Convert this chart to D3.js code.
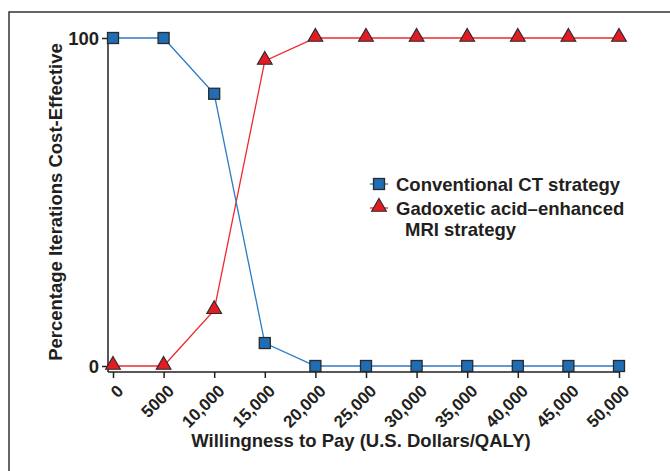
<!DOCTYPE html>
<html>
<head>
<meta charset="utf-8">
<script src="https://cdn.jsdelivr.net/npm/d3@7"></script>
<style>
  body { margin: 0; background: #fff; }
  svg text { font-family: "Liberation Sans", Arial, sans-serif; font-weight: bold; fill: #231f20; }
</style>
</head>
<body>
<div id="chart"></div>
<script>
// willingness to pay thresholds (US $ / QALY)
const wtp = [0, 5000, 10000, 15000, 20000, 25000, 30000, 35000, 40000, 45000, 50000];
const ctValues = [100, 100, 83, 7, 0, 0, 0, 0, 0, 0, 0];
const mriValues = [0, 0, 17, 93, 100, 100, 100, 100, 100, 100, 100];
const yTicks = [0, 100];
const tickLabels = ["0", "5000", "10,000", "15,000", "20,000", "25,000", "30,000", "35,000", "40,000", "45,000", "50,000"];

const series = [
    { name: "Conventional CT strategy", values: ctValues, line: "#2b7bc4", fill: "#1f6db4", shape: "square" },
    { name: "Gadoxetic acid\u2013enhanced|MRI strategy", values: mriValues, line: "#ee2a2f", fill: "#e31b23", shape: "triangle" }
];

const width = 670, height = 471;
const svg = d3.select("#chart").append("svg")
    .attr("width", width)
    .attr("height", height);

// outer frame
svg.append("rect")
    .attr("x", 9).attr("y", 12)
    .attr("width", 680).attr("height", 480)
    .attr("fill", "none")
    .attr("stroke", "#333")
    .attr("stroke-width", 1.5);

const x = d3.scaleLinear().domain([0, 50000]).range([113, 619]);
const y = d3.scaleLinear().domain([0, 100]).range([366, 38]);

const axisColor = "#231f20";

// y axis
svg.append("line")
    .attr("x1", 108).attr("x2", 108)
    .attr("y1", y(100)).attr("y2", 372)
    .attr("stroke", axisColor).attr("stroke-width", 1.5);

const yAxis = svg.append("g")
    .attr("transform", "translate(108,0)")
    .call(d3.axisLeft(y).tickValues(yTicks).tickSize(6).tickPadding(3).tickFormat(d3.format("d")));
yAxis.select(".domain").remove();
yAxis.selectAll(".tick line").attr("stroke", axisColor).attr("stroke-width", 1.5);
yAxis.selectAll(".tick text")
    .attr("font-size", 18.5)
    .attr("font-family", null)
    .attr("dy", "0.36em");

// x axis
svg.append("line")
    .attr("x1", 108).attr("x2", 620)
    .attr("y1", 372).attr("y2", 372)
    .attr("stroke", axisColor).attr("stroke-width", 1.5);

const xAxis = svg.append("g")
    .attr("transform", "translate(0,372)")
    .call(d3.axisBottom(x).tickValues(wtp).tickSize(6).tickFormat((d, i) => tickLabels[i]));
xAxis.select(".domain").remove();
xAxis.selectAll(".tick line").attr("stroke", axisColor).attr("stroke-width", 1.5);
xAxis.selectAll(".tick text")
    .attr("font-size", 17)
    .attr("font-family", null)
    .attr("text-anchor", "end")
    .attr("y", 0)
    .attr("dy", 0)
    .attr("transform", "translate(11,20) rotate(-45)");

// axis titles
svg.append("text")
    .attr("x", 361).attr("y", 447)
    .attr("text-anchor", "middle")
    .attr("font-size", 18.5)
    .text("Willingness to Pay (U.S. Dollars/QALY)");

svg.append("text")
    .attr("transform", "translate(62,202) rotate(-90)")
    .attr("text-anchor", "middle")
    .attr("font-size", 18.5)
    .text("Percentage Iterations Cost-Effective");

const line = d3.line()
    .x((d, i) => x(wtp[i]))
    .y(d => y(d));

const tri = d3.symbol().type(d3.symbolTriangle).size(95);

function drawMarker(g, s, cx, cy) {
    if (s.shape === "square") {
        g.append("rect")
            .attr("x", cx - 5.5).attr("y", cy - 5.5)
            .attr("width", 11).attr("height", 11)
            .attr("fill", s.fill)
            .attr("stroke", "#2a2a2a").attr("stroke-width", 1.3);
    } else {
        g.append("path")
            .attr("d", tri)
            .attr("transform", `translate(${cx},${cy - 1})`)
            .attr("fill", s.fill)
            .attr("stroke", "#2a2a2a").attr("stroke-width", 1.1);
    }
}

// draw MRI first then CT so squares sit on top like the original
[series[1], series[0]].forEach(s => {
    const g = svg.append("g");
    g.append("path")
        .datum(s.values)
        .attr("d", line)
        .attr("fill", "none")
        .attr("stroke", s.line)
        .attr("stroke-width", 1.3);
    s.values.forEach((v, i) => drawMarker(g, s, x(wtp[i]), y(v)));
});

// legend
const legend = svg.append("g").attr("transform", "translate(379,0)");
const legendRows = [184, 208];
series.forEach((s, i) => {
    const ly = legendRows[i];
    legend.append("line")
        .attr("x1", -9).attr("x2", 9)
        .attr("y1", ly).attr("y2", ly)
        .attr("stroke", s.line).attr("stroke-width", 1.3);
    drawMarker(legend, s, 0, ly);
    const parts = s.name.split("|");
    parts.forEach((p, j) => {
        legend.append("text")
            .attr("x", j === 0 ? 17 : 26)
            .attr("y", ly + 7 + j * 21)
            .attr("font-size", 18.5)
            .text(p);
    });
});
</script>
</body>
</html>
